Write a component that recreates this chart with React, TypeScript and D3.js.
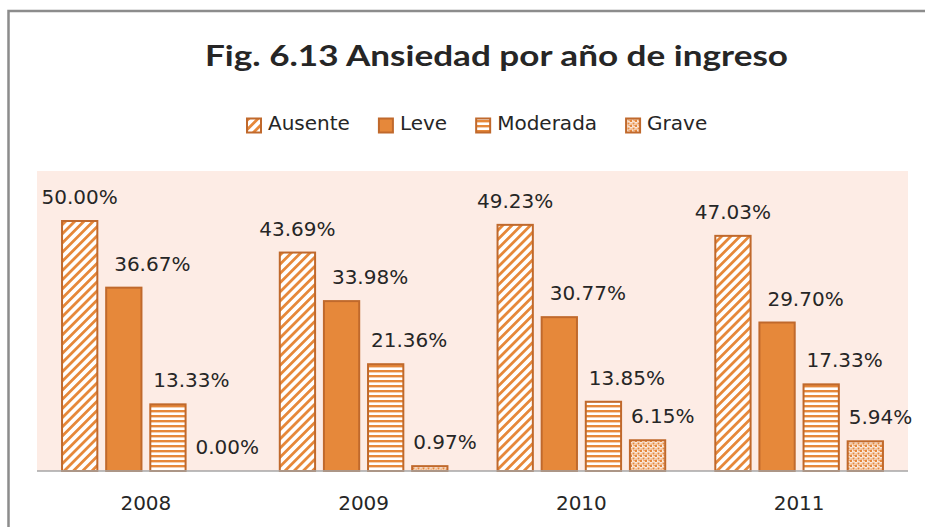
import React, { useEffect, useRef } from 'react';
import * as d3 from 'd3';

// data
const years = ['2008', '2009', '2010', '2011'];
const seriesNames = ['Ausente', 'Leve', 'Moderada', 'Grave'];
const ausente = [50.0, 43.69, 49.23, 47.03];
const leve = [36.67, 33.98, 30.77, 29.7];
const moderada = [13.33, 21.36, 13.85, 17.33];
const grave = [0.0, 0.97, 6.15, 5.94];
const seriesValues = [ausente, leve, moderada, grave];

const W = 925;
const H = 527;
const plot = { left: 37, right: 908, top: 171, bottom: 471 };
const orange = '#E6883A';
const edge = '#C0692C';
const font = 'DejaVu Sans, sans-serif';
// label placement per series: 'mid' = centered over bar, number = offset of text start from bar left
const labelShift: (string | number)[] = ['mid', 8, 3, 1];

export default function App() {
  const ref = useRef<SVGSVGElement>(null);

  useEffect(() => {
    const svg = d3.select(ref.current);
    svg.selectAll('*').remove();

    const defs = svg.append('defs');
    // wide upward diagonal
    const p1 = defs.append('pattern')
      .attr('id', 'diag')
      .attr('patternUnits', 'userSpaceOnUse')
      .attr('width', 6.5).attr('height', 6.5)
      .attr('patternTransform', 'rotate(45)');
    p1.append('rect').attr('width', 6.5).attr('height', 6.5).attr('fill', '#fff');
    p1.append('rect').attr('width', 2.8).attr('height', 6.5).attr('fill', orange);
    // horizontal stripes
    const p2 = defs.append('pattern')
      .attr('id', 'horz')
      .attr('patternUnits', 'userSpaceOnUse')
      .attr('width', 6).attr('height', 5);
    p2.append('rect').attr('width', 6).attr('height', 5).attr('fill', '#fff');
    p2.append('rect').attr('width', 6).attr('height', 2.4).attr('fill', orange);
    // dotted
    const p3 = defs.append('pattern')
      .attr('id', 'dots')
      .attr('patternUnits', 'userSpaceOnUse')
      .attr('width', 5).attr('height', 5);
    p3.append('rect').attr('width', 5).attr('height', 5).attr('fill', '#fbe9dc');
    [[0, 0], [2.5, 2.5], [3.5, 0], [0.5, 3.5]].forEach(([x, y], i) => {
      p3.append('rect').attr('x', x).attr('y', y)
        .attr('width', i < 2 ? 2 : 1.2).attr('height', i < 2 ? 2 : 1.2)
        .attr('fill', orange);
    });
    const fills = ['url(#diag)', orange, 'url(#horz)', 'url(#dots)'];

    // outer frame
    svg.append('rect')
      .attr('x', 8.5).attr('y', 11)
      .attr('width', 1000).attr('height', 700)
      .attr('fill', '#fff')
      .attr('stroke', '#8c8c8c').attr('stroke-width', 2.5);

    svg.append('text')
      .attr('x', 205).attr('y', 66)
      .attr('textLength', 583)
      .attr('lengthAdjust', 'spacingAndGlyphs')
      .style('font-family', 'Lato, sans-serif')
      .style('font-weight', 'bold')
      .style('font-size', '29px')
      .attr('fill', '#262626')
      .text('Fig. 6.13 Ansiedad por año de ingreso');

    // legend
    const legend = svg.append('g').attr('transform', 'translate(246,0)');
    let lx = 0;
    seriesNames.forEach((name, i) => {
      const g = legend.append('g').attr('transform', `translate(${lx},0)`);
      g.append('rect')
        .attr('x', 1).attr('y', 118.5)
        .attr('width', 14).attr('height', 14)
        .attr('fill', fills[i])
        .attr('stroke', edge).attr('stroke-width', 2);
      const t = g.append('text')
        .attr('x', 22).attr('y', 130)
        .style('font-family', font)
        .style('font-size', '20px')
        .attr('fill', '#262626')
        .text(name);
      const tw = (t.node() as SVGTextElement).getComputedTextLength();
      lx += 22 + tw + 28;
    });

    // plot area
    svg.append('rect')
      .attr('x', plot.left).attr('y', plot.top)
      .attr('width', plot.right - plot.left)
      .attr('height', plot.bottom - plot.top)
      .attr('fill', '#fdece5');

    const x0 = d3.scaleBand().domain(years).range([plot.left, plot.right]).paddingInner(0.23).paddingOuter(0.115);
    const x1 = d3.scaleBand().domain(seriesNames).range([0, x0.bandwidth()]).paddingInner(0.2);
    const y = d3.scaleLinear().domain([0, 60]).range([plot.bottom, plot.top]);

    seriesNames.forEach((name, si) => {
      const vals = seriesValues[si];
      const g = svg.append('g');
      g.selectAll('rect')
        .data(vals)
        .enter()
        .append('rect')
          .attr('x', (d, i) => x0(years[i])! + x1(name)!)
          .attr('y', d => y(d))
          .attr('width', x1.bandwidth())
          .attr('height', d => y(0) - y(d))
          .attr('fill', fills[si])
          .attr('stroke', edge)
          .attr('stroke-width', 2)
          .attr('display', d => (d === 0 ? 'none' : null));
      const shift = labelShift[si];
      g.selectAll('text')
        .data(vals)
        .enter()
        .append('text')
          .attr('x', (d, i) => {
            const bx = x0(years[i])! + x1(name)!;
            return shift === 'mid' ? bx + x1.bandwidth() / 2 : bx + (shift as number);
          })
          .attr('y', d => y(d) - 17)
          .attr('text-anchor', shift === 'mid' ? 'middle' : 'start')
          .style('font-family', font)
          .style('font-size', '20px')
          .attr('fill', '#262626')
          .text(d => d.toFixed(2) + '%');
    });

    // category axis
    const axis = svg.append('g')
      .attr('transform', `translate(0,${plot.bottom})`)
      .call(d3.axisBottom(x0).tickSize(0).tickPadding(25));
    axis.select('.domain').attr('stroke', '#a6a6a6').attr('stroke-width', 1.5)
      .attr('d', `M${plot.left},0H${plot.right}`);
    axis.selectAll('text')
      .style('font-family', font)
      .style('font-size', '20px')
      .attr('fill', '#262626');
  }, []);

  return (
    <svg ref={ref} width={W} height={H}
      style={{ position: 'absolute', left: 0, top: 0, display: 'block' }} />
  );
}
